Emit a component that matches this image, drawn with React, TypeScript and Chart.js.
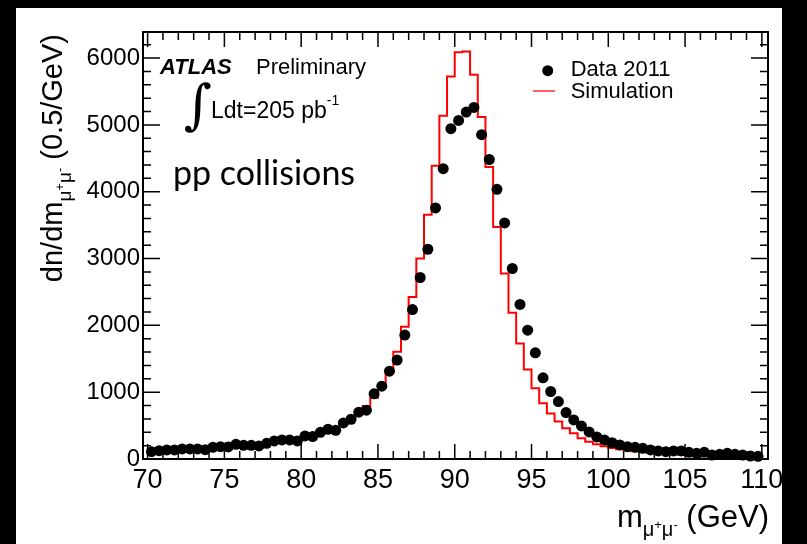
import React, { useEffect, useRef } from 'react';
import { Chart, registerables } from 'chart.js';

Chart.register(...registerables);

// Bin centres of the 0.5 GeV mass bins (GeV)
const binCenters = [
  70.25, 70.75, 71.25, 71.75, 72.25, 72.75, 73.25, 73.75, 74.25, 74.75,
  75.25, 75.75, 76.25, 76.75, 77.25, 77.75, 78.25, 78.75, 79.25, 79.75,
  80.25, 80.75, 81.25, 81.75, 82.25, 82.75, 83.25, 83.75, 84.25, 84.75,
  85.25, 85.75, 86.25, 86.75, 87.25, 87.75, 88.25, 88.75, 89.25, 89.75,
  90.25, 90.75, 91.25, 91.75, 92.25, 92.75, 93.25, 93.75, 94.25, 94.75,
  95.25, 95.75, 96.25, 96.75, 97.25, 97.75, 98.25, 98.75, 99.25, 99.75,
  100.25, 100.75, 101.25, 101.75, 102.25, 102.75, 103.25, 103.75, 104.25, 104.75,
  105.25, 105.75, 106.25, 106.75, 107.25, 107.75, 108.25, 108.75, 109.25, 109.75,
];
const BIN_HALF_WIDTH = 0.25;

// Data 2011 (entries per 0.5 GeV)
const dataCounts = [
  110, 125, 135, 135, 150, 150, 150, 140, 175, 185,
  180, 220, 205, 205, 195, 235, 270, 285, 285, 270,
  345, 335, 400, 445, 430, 540, 595, 700, 730, 975,
  1090, 1315, 1480, 1855, 2237, 2716, 3139, 3757, 4345, 4943,
  5067, 5191, 5262, 4853, 4482, 4036, 3533, 2851, 2313, 1928,
  1589, 1215, 1010, 860, 695, 585, 495, 405, 330, 285,
  245, 210, 185, 175, 160, 135, 120, 110, 120, 120,
  100, 85, 100, 60, 70, 85, 70, 60, 45, 40,
];

// Simulation histogram (entries per 0.5 GeV)
const simCounts = [
  95, 100, 105, 110, 115, 120, 125, 130, 140, 150,
  160, 170, 180, 190, 200, 215, 230, 245, 260, 275,
  295, 315, 340, 370, 415, 474, 519, 593, 668, 792,
  916, 1096, 1305, 1604, 1978, 2426, 3000, 3657, 4390, 5135,
  5725, 6088, 6100, 5750, 5117, 4370, 3472, 2775, 2187, 1729,
  1341, 1057, 833, 680, 560, 460, 385, 310, 260, 220,
  190, 165, 145, 128, 115, 103, 93, 84, 77, 70,
  64, 59, 55, 51, 48, 45, 42, 40, 38, 36,
];

const xTicks = [70, 75, 80, 85, 90, 95, 100, 105, 110];
const yTicks = [0, 1000, 2000, 3000, 4000, 5000, 6000];
const X_MIN = 69.7;
const X_MAX = 110.4;
const Y_MIN = 0;
const Y_MAX = 6390;
const X_MINOR_START = 70;
const X_MINOR = 1;
const Y_MINOR = 200;

const FONT = '"Liberation Sans", Arial, Helvetica, sans-serif';

type Part = { t: string; size: number; dy: number };

function drawRich(ctx: CanvasRenderingContext2D, parts: Part[], x: number, y: number) {
  let cx = x;
  for (const p of parts) {
    ctx.font = `${p.size}px ${FONT}`;
    ctx.fillText(p.t, cx, y + p.dy);
    cx += ctx.measureText(p.t).width;
  }
  return cx - x;
}
function richWidth(ctx: CanvasRenderingContext2D, parts: Part[]) {
  let w = 0;
  for (const p of parts) {
    ctx.font = `${p.size}px ${FONT}`;
    w += ctx.measureText(p.t).width;
  }
  return w;
}

const decor = {
  id: 'atlasDecor',
  beforeDraw(chart: any) {
    const ctx = chart.ctx as CanvasRenderingContext2D;
    ctx.save();
    ctx.fillStyle = '#000';
    ctx.fillRect(0, 0, chart.width, chart.height);
    ctx.fillStyle = '#fff';
    ctx.fillRect(16, 8, 766, chart.height - 8);
    ctx.restore();
  },
  afterDraw(chart: any) {
    const ctx = chart.ctx as CanvasRenderingContext2D;
    const { left, right, top, bottom } = chart.chartArea;
    const xs = chart.scales.x;
    const ys = chart.scales.y;
    ctx.save();
    // ticks (inside the frame on all four sides)
    ctx.strokeStyle = '#000';
    ctx.lineWidth = 1.5;
    ctx.beginPath();
    for (let v = X_MINOR_START; v <= X_MAX + 1e-9; v += X_MINOR) {
      const px = xs.getPixelForValue(v);
      const major = xTicks.includes(v);
      const len = major ? 15 : 8;
      ctx.moveTo(px, bottom);
      ctx.lineTo(px, bottom - len);
      ctx.moveTo(px, top);
      ctx.lineTo(px, top + len);
    }
    for (let v = Y_MIN; v <= Y_MAX + 1e-9; v += Y_MINOR) {
      const py = ys.getPixelForValue(v);
      const major = yTicks.includes(v);
      const len = major ? 17 : 8;
      ctx.moveTo(left, py);
      ctx.lineTo(left + len, py);
      ctx.moveTo(right, py);
      ctx.lineTo(right - len, py);
    }
    ctx.stroke();
    // frame
    ctx.lineWidth = 2;
    ctx.strokeRect(left, top, right - left, bottom - top);

    ctx.fillStyle = '#000';
    ctx.textBaseline = 'alphabetic';
    ctx.textAlign = 'left';
    // ATLAS Preliminary
    ctx.font = `italic bold 22px ${FONT}`;
    ctx.fillText('ATLAS', 160, 74);
    ctx.font = `22px ${FONT}`;
    ctx.fillText('Preliminary', 256, 74);
    // Integral luminosity
    ctx.font = `54px "DejaVu Serif", serif`;
    ctx.fillText('∫', 184, 123);
    drawRich(ctx, [
      { t: 'Ldt=205 pb', size: 23, dy: 0 },
      { t: '-1', size: 14, dy: -13 },
    ], 211, 118);
    // pp collisions
    ctx.font = `34px Lato, "Open Sans", sans-serif`;
    ctx.fillText('pp collisions', 173, 185);

    // Legend
    ctx.beginPath();
    ctx.arc(547.7, 70.7, 5.5, 0, Math.PI * 2);
    ctx.fill();
    ctx.font = `22px ${FONT}`;
    ctx.fillText('Data 2011', 570.7, 76);
    ctx.strokeStyle = 'rgb(255,40,40)';
    ctx.lineWidth = 1.5;
    ctx.beginPath();
    ctx.moveTo(533, 91);
    ctx.lineTo(555, 91);
    ctx.stroke();
    ctx.fillText('Simulation', 570.7, 98);

    // X axis title
    const xParts: Part[] = [
      { t: 'm', size: 31, dy: 0 },
      { t: 'μ', size: 20, dy: 9 },
      { t: '+', size: 13, dy: 2 },
      { t: 'μ', size: 20, dy: 9 },
      { t: '-', size: 13, dy: 2 },
      { t: ' (GeV)', size: 31, dy: 0 },
    ];
    const xw = richWidth(ctx, xParts);
    drawRich(ctx, xParts, 769 - xw, 527);

    // Y axis title (rotated)
    const yParts: Part[] = [
      { t: 'dn/dm', size: 29, dy: 0 },
      { t: 'μ', size: 19, dy: 9 },
      { t: '+', size: 13, dy: 2 },
      { t: 'μ', size: 19, dy: 9 },
      { t: '-', size: 13, dy: 2 },
      { t: ' (0.5/GeV)', size: 29, dy: 0 },
    ];
    const yw = richWidth(ctx, yParts);
    ctx.translate(62, 34 + yw);
    ctx.rotate(-Math.PI / 2);
    drawRich(ctx, yParts, 0, 0);
    ctx.restore();
  },
};

export default function App() {
  const ref = useRef<HTMLCanvasElement | null>(null);
  useEffect(() => {
    if (!ref.current) return;
    const dataPoints = binCenters.map((x, i) => ({ x, y: dataCounts[i] }));
    const simPoints = binCenters.map((x, i) => ({ x: x - BIN_HALF_WIDTH, y: simCounts[i] }));
    simPoints.push({ x: binCenters[binCenters.length - 1] + BIN_HALF_WIDTH, y: simCounts[simCounts.length - 1] });

    const chart = new Chart(ref.current, {
      type: 'scatter',
      data: {
        datasets: [
          {
            label: 'Data 2011',
            data: dataPoints,
            backgroundColor: '#000',
            borderColor: '#000',
            pointRadius: 5.5,
            pointBorderWidth: 0,
            order: 0,
            clip: false as any,
          },
          {
            label: 'Simulation',
            data: simPoints,
            showLine: true,
            stepped: 'after',
            borderColor: 'rgb(255,0,0)',
            borderWidth: 2,
            pointRadius: 0,
            fill: false,
            order: 1,
          } as any,
        ],
      },
      options: {
        responsive: false,
        animation: false,
        events: [],
        layout: { padding: { left: 16, top: 32, right: 39, bottom: 40 } },
        plugins: { legend: { display: false }, tooltip: { enabled: false } },
        scales: {
          x: {
            type: 'linear',
            min: X_MIN,
            max: X_MAX,
            grid: { display: false, drawTicks: false },
            border: { display: false },
            afterBuildTicks: (s: any) => { s.ticks = xTicks.map((v) => ({ value: v })); },
            afterFit: (s: any) => { s.height = 45; },
            ticks: {
              color: '#000',
              font: { family: FONT, size: 27 },
              padding: 5,
              maxRotation: 0,
              autoSkip: false,
              callback: (v: any) => String(v),
            },
          },
          y: {
            type: 'linear',
            min: Y_MIN,
            max: Y_MAX,
            grid: { display: false, drawTicks: false },
            border: { display: false },
            afterBuildTicks: (s: any) => { s.ticks = yTicks.map((v) => ({ value: v })); },
            afterFit: (s: any) => { s.width = 127; },
            ticks: {
              color: '#000',
              font: { family: FONT, size: 24 },
              padding: 3,
              autoSkip: false,
              callback: (v: any) => String(v),
            },
          },
        },
      },
      plugins: [decor],
    });
    return () => chart.destroy();
  }, []);
  return (
    <canvas
      ref={ref}
      width={807}
      height={544}
      style={{ position: 'fixed', left: 0, top: 0, display: 'block' }}
    />
  );
}
